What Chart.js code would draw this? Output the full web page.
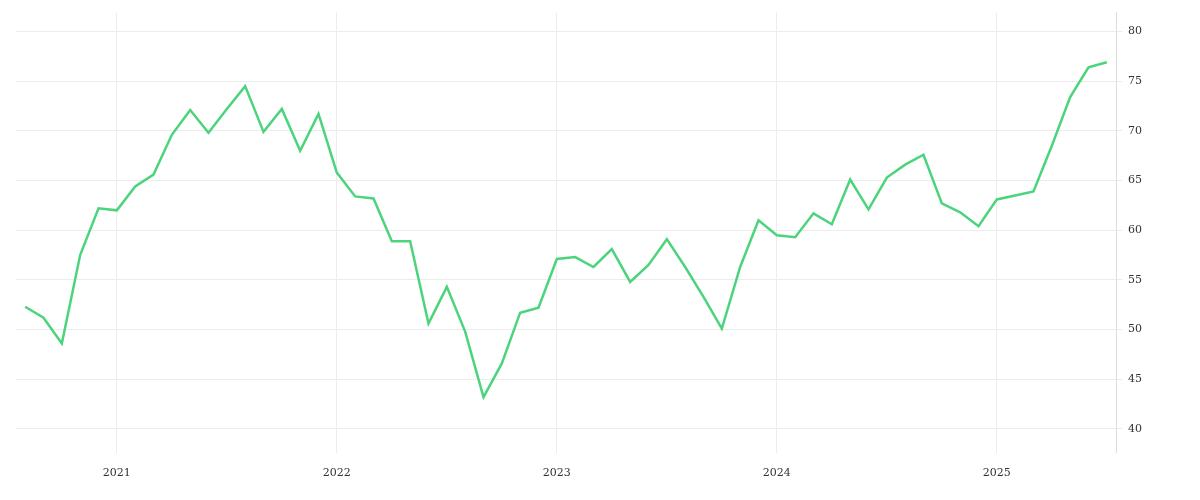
<!DOCTYPE html>
<html>
<head>
<meta charset="utf-8">
<script src="https://cdn.jsdelivr.net/npm/chart.js@4"></script>
<style>
  html, body { margin: 0; padding: 0; background: #fff; }
  #wrap { width: 1200px; height: 500px; }
</style>
</head>
<body>
<div id="wrap"><canvas id="chart"></canvas></div>
<script>
// monthly values, Aug 2020 .. Jul 2025
const startYear = 2020;
const startMonth = 8;
const values = [
  52.3, 51.2, 48.6, 57.5, 62.2,
  62.0, 64.4, 65.6, 69.6, 72.1, 69.8, 72.2, 74.5, 69.9, 72.2, 68.0, 71.7,
  65.8, 63.4, 63.2, 58.9, 58.9, 50.6, 54.3, 49.8, 43.2, 46.6, 51.7, 52.2,
  57.1, 57.3, 56.3, 58.1, 54.8, 56.5, 59.1, 56.3, 53.3, 50.1, 56.3, 61.0,
  59.5, 59.3, 61.7, 60.6, 65.1, 62.1, 65.3, 66.6, 67.6, 62.7, 61.8, 60.4,
  63.1, 63.5, 63.9, 68.5, 73.4, 76.4, 76.9
];
const yearTicks = [2021, 2022, 2023, 2024, 2025];
const yTicks = [40, 45, 50, 55, 60, 65, 70, 75, 80];

const monthIndex = (y) => (y - startYear) * 12 + (1 - startMonth);
const points = values.map((v, i) => ({ x: i, y: v }));

new Chart(document.getElementById("chart"), {
  type: "line",
  data: {
    datasets: [{
      data: points,
      borderColor: "#4cd47c",
      borderWidth: 2.5,
      pointRadius: 0,
      tension: 0
    }]
  },
  options: {
    responsive: true,
    maintainAspectRatio: false,
    animation: false,
    layout: { padding: { left: 16, top: 12, right: 52, bottom: 6 } },
    plugins: { legend: { display: false }, tooltip: { enabled: false } },
    scales: {
      x: {
        type: "linear",
        min: -0.5,
        max: 59.5,
        afterBuildTicks(axis) {
          axis.ticks = yearTicks.map((y) => ({ value: monthIndex(y) }));
        },
        grid: { color: "#ececec", drawTicks: false },
        border: { display: false },
        ticks: {
          color: "#333",
          padding: 14,
          font: { family: "DejaVu Serif", size: 11 },
          callback(value) {
            return String(startYear + Math.floor((value + startMonth - 1) / 12));
          }
        }
      },
      y: {
        position: "right",
        min: 37.6,
        max: 81.9,
        afterBuildTicks(axis) {
          axis.ticks = yTicks.map((v) => ({ value: v }));
        },
        grid: { color: "#ececec", drawTicks: true, tickLength: 6 },
        border: { display: true, color: "#ddd" },
        ticks: {
          color: "#333",
          padding: 6,
          font: { family: "DejaVu Serif", size: 11 }
        }
      }
    }
  }
});
</script>
</body>
</html>
